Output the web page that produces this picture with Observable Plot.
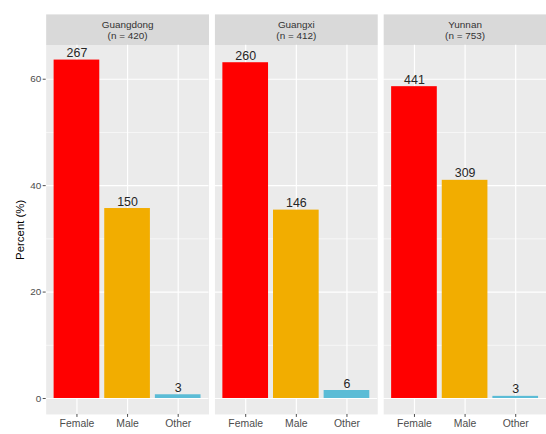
<!DOCTYPE html>
<html>
<head>
<meta charset="utf-8">
<script src="https://cdn.jsdelivr.net/npm/d3@7"></script>
<script src="https://cdn.jsdelivr.net/npm/@observablehq/plot@0.6"></script>
<style>
  html, body { margin: 0; padding: 0; background: #fff; }
  #chart { width: 546px; height: 434px; overflow: hidden; }
  #chart svg [aria-label="y-axis label"] text { font-size: 11.5px; fill: #000; }
</style>
</head>
<body>
<div id="chart"></div>
<script>
// Data
const regions = ["Guangdong", "Guangxi", "Yunnan"];
const regionN = [420, 412, 753];
const genders = ["Female", "Male", "Other"];
const colors = ["#FF0000", "#F2AD00", "#5BBCD6"];
const countsGuangdong = [267, 150, 3];
const countsGuangxi = [260, 146, 6];
const countsYunnan = [441, 309, 3];
const pctGuangdong = [63.6, 35.7, 0.7];
const pctGuangxi = [63.1, 35.4, 1.5];
const pctYunnan = [58.6, 41.0, 0.4];
const yTicks = [0, 20, 40, 60];
const yMinorTicks = [10, 30, 50];

const countsByRegion = [countsGuangdong, countsGuangxi, countsYunnan];
const pctByRegion = [pctGuangdong, pctGuangxi, pctYunnan];
const rows = [];
regions.forEach((r, i) => {
  genders.forEach((g, j) => {
    rows.push({region: r, gender: g, count: countsByRegion[i][j], pct: pctByRegion[i][j]});
  });
});
const strips = regions.map((r, i) => ({region: r, label: `${r}\n(n = ${regionN[i]})`}));

const W = 550, H = 434, mT = 45, mB = 17, mL = 45, mR = 0;
const panelH = H - mT - mB;

const chart = Plot.plot({
  width: W,
  height: H,
  marginTop: mT,
  marginBottom: mB,
  marginLeft: mL,
  marginRight: mR,
  style: {fontFamily: "'Liberation Sans', Arial, sans-serif", background: "#fff"},
  fx: {domain: regions, paddingInner: 0.038, paddingOuter: 0, axis: null, label: null},
  x: {domain: genders, paddingInner: 0.1, paddingOuter: 0.15, label: null, axis: null},
  y: {domain: [-3.0, 66.4], label: null, axis: null},
  color: {domain: genders, range: colors},
  marks: [
    Plot.frame({fill: "#EBEBEB"}),
    Plot.frame({fill: "#D9D9D9", insetTop: -31, insetBottom: panelH}),
    Plot.gridY(yMinorTicks, {stroke: "#fff", strokeOpacity: 1, strokeWidth: 0.6}),
    Plot.gridY(yTicks, {stroke: "#fff", strokeOpacity: 1, strokeWidth: 1.2}),
    Plot.gridX(genders, {stroke: "#fff", strokeOpacity: 1, strokeWidth: 1.2}),
    Plot.barY(rows, {fx: "region", x: "gender", y: "pct", fill: "gender"}),
    Plot.text(rows, {fx: "region", x: "gender", y: "pct", text: d => String(d.count),
      lineAnchor: "bottom", dy: -3, fontSize: 12.5, fill: "#262626"}),
    Plot.text(strips, {fx: "region", text: "label", frameAnchor: "top", dy: -15.5,
      lineAnchor: "middle", lineHeight: 1.15, fontSize: 10, fill: "#333"}),
    Plot.axisY({ticks: yTicks, tickSize: 3, tickPadding: 2, fontSize: 10, color: "#4D4D4D",
      label: "Percent (%)", labelAnchor: "center", labelArrow: "none", labelOffset: 30}),
    Plot.axisX({tickSize: 3, tickPadding: 2.5, fontSize: 10.5, color: "#4D4D4D", label: null})
  ]
});
document.getElementById("chart").appendChild(chart);
</script>
</body>
</html>
